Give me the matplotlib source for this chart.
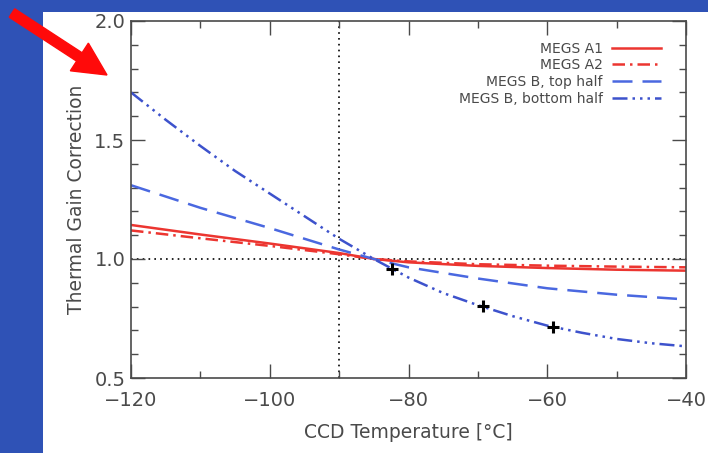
import matplotlib
matplotlib.use("Agg")
import matplotlib.pyplot as plt
from matplotlib.patches import FancyArrow, Rectangle
from matplotlib.ticker import MultipleLocator

# CCD temperature grid (deg C) and gain corrections per channel
temp_a1 = [-120, -110, -100, -90, -85, -80, -70, -60, -50, -40]
gain_a1 = [1.143, 1.103, 1.065, 1.025, 1.0, 0.986, 0.971, 0.962, 0.955, 0.951]

temp_a2 = [-120, -110, -100, -90, -85, -80, -70, -60, -50, -40]
gain_a2 = [1.120, 1.087, 1.055, 1.020, 1.0, 0.990, 0.978, 0.972, 0.968, 0.965]

temp_b_top = [-120, -110, -100, -90, -85, -80, -70, -60, -50, -40]
gain_b_top = [1.310, 1.215, 1.130, 1.040, 1.0, 0.965, 0.918, 0.877, 0.850, 0.830]

temp_b_bot = [-120, -115, -110, -105, -100, -95, -90, -85, -80, -75,
              -70, -65, -60, -55, -50, -45, -40]
gain_b_bot = [1.700, 1.585, 1.475, 1.370, 1.275, 1.180, 1.085, 1.0, 0.922, 0.857,
              0.806, 0.760, 0.720, 0.690, 0.664, 0.646, 0.633]

# measured calibration points on the bottom-half curve
meas_temp = [-82.4, -69.2, -59.2]
meas_gain = [0.958, 0.804, 0.713]

labels = ["MEGS A1", "MEGS A2", "MEGS B, top half", "MEGS B, bottom half"]

RED = "#ec3530"
BLUE = "#4a68e0"
BLUE_DK = "#3d52cc"
INK = "#4a4a4a"

fig = plt.figure(figsize=(7.08, 4.53), dpi=100)
fig.patch.set_facecolor("#2f52b6")
fig.patches.append(Rectangle((43 / 708, 0), 1 - 43 / 708, 1 - 12 / 453,
                             transform=fig.transFigure, facecolor="white",
                             edgecolor="none", zorder=-5))

ax = fig.add_axes([131 / 708, 75 / 453, 555 / 708, 357 / 453])
ax.set_facecolor("white")

ax.axvline(-90, color="black", lw=1.2, ls=(0, (1, 2.5)), zorder=1)
ax.axhline(1.0, color="black", lw=1.2, ls=(0, (1, 2.5)), zorder=1)

ax.plot(temp_a1, gain_a1, color=RED, lw=1.8, ls="-", label=labels[0])
ax.plot(temp_a2, gain_a2, color=RED, lw=1.8, ls=(0, (5, 2, 1, 2)), label=labels[1])
ax.plot(temp_b_top, gain_b_top, color=BLUE, lw=1.8, ls=(0, (8, 4)), label=labels[2])
ax.plot(temp_b_bot, gain_b_bot, color=BLUE_DK, lw=1.8,
        ls=(0, (6, 2, 1, 2, 1, 2, 1, 2)), label=labels[3])
ax.plot(meas_temp, meas_gain, ls="none", marker="+", ms=9, mew=2.2,
        color="black", zorder=5)

ax.set_xlim(-120, -40)
ax.set_ylim(0.5, 2.0)
ax.xaxis.set_major_locator(MultipleLocator(20))
ax.xaxis.set_minor_locator(MultipleLocator(10))
ax.yaxis.set_major_locator(MultipleLocator(0.5))
ax.yaxis.set_minor_locator(MultipleLocator(0.1))
ax.xaxis.set_major_formatter(plt.FuncFormatter(lambda v, p: f"{v:.0f}".replace("-", "\u2212")))
ax.yaxis.set_major_formatter(plt.FuncFormatter(lambda v, p: f"{v:.1f}"))

ax.tick_params(which="both", direction="in", top=True, right=True,
               colors=INK, labelcolor=INK, labelsize=14, width=1)
ax.tick_params(which="major", length=10, pad=9)
ax.tick_params(which="minor", length=5)
ax.tick_params(axis="y", pad=4)
for s in ax.spines.values():
    s.set_color(INK)
    s.set_linewidth(1.2)

ax.set_xlabel("CCD Temperature [\u00b0C]", fontsize=13.5, color=INK, labelpad=10)
ax.set_ylabel("Thermal Gain Correction", fontsize=13.5, color=INK, labelpad=6)

ax.legend(loc="upper right", bbox_to_anchor=(0.965, 0.958), frameon=False,
          markerfirst=False, fontsize=10, labelcolor=INK, handlelength=3.5,
          labelspacing=0.2, handletextpad=0.7, borderaxespad=0)

# red pointer arrow in the upper-left corner, sized in inches
fig.patches.append(FancyArrow(0.12, 4.40, 0.95, -0.62,
                              width=0.10, head_width=0.33, head_length=0.33,
                              length_includes_head=True, color="#ff0a0a",
                              transform=fig.dpi_scale_trans, zorder=10))

fig.savefig("out.png", dpi=100, facecolor=fig.get_facecolor())
